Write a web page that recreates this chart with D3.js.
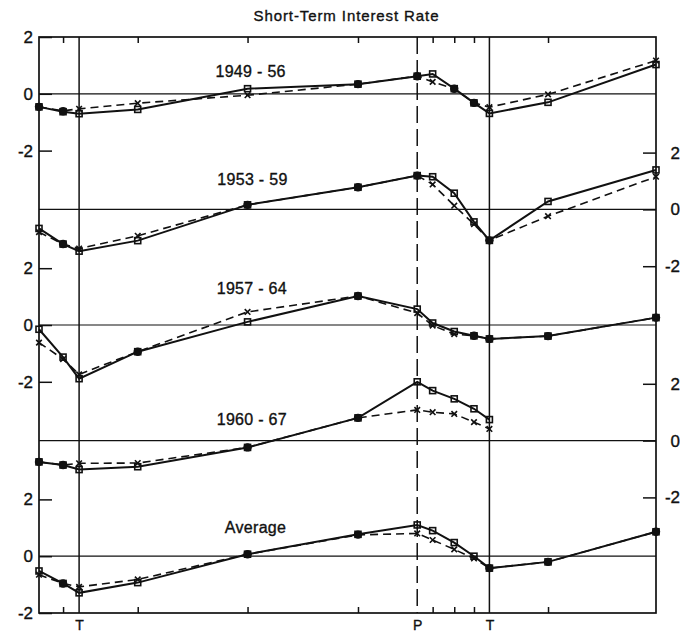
<!DOCTYPE html>
<html><head><meta charset="utf-8">
<script src="https://cdn.jsdelivr.net/npm/d3@7"></script>
<style>
body{margin:0;background:#fff}
svg{display:block}
text{font-family:"Liberation Sans",Arial,Helvetica,sans-serif;fill:#111;stroke:#111;stroke-width:0.35px}
</style>
</head><body><svg id="c" width="680" height="637"></svg>
<script>
// ---------------- data ----------------
const chartTitle = "Short-Term Interest Rate";
// reference-cycle stage positions (relative time scale, initial point = 0, final = 100)
const stagePos = [0, 3.9, 6.5, 16.0, 33.8, 51.7, 61.3, 63.8, 67.3, 70.5, 73.0, 82.5, 100];
const turnIndex = [2, 6, 10];
const turnLabels = ["T", "P", "T"];
const minorTickIndex = [1, 3, 4, 5, 7, 8, 9, 11];
const panelLabels = ["1949 - 56", "1953 - 59", "1957 - 64", "1960 - 67", "Average"];
const yTickValues = [2, 0, -2];

const solid4956  = [-0.46, -0.63, -0.70, -0.55, 0.18, 0.34, 0.62, 0.70, 0.18, -0.32, -0.69, -0.30, 1.03];
const dashed4956 = [-0.46, -0.60, -0.53, -0.33, -0.05, 0.34, 0.62, 0.42, 0.18, -0.32, -0.47, -0.02, 1.17];

const solid5359  = [-0.67, -1.22, -1.47, -1.10, 0.16, 0.78, 1.19, 1.15, 0.57, -0.44, -1.09, 0.28, 1.39];
const dashed5359 = [-0.80, -1.22, -1.38, -0.93, 0.16, 0.78, 1.19, 0.88, 0.13, -0.52, -1.09, -0.24, 1.15];

const solid5764  = [-0.15, -1.13, -1.89, -0.94, 0.11, 1.02, 0.56, 0.07, -0.23, -0.38, -0.49, -0.39, 0.26];
const dashed5764 = [-0.62, -1.20, -1.74, -0.94, 0.46, 1.02, 0.42, -0.02, -0.32, -0.38, -0.49, -0.39, 0.26];

const solid6067  = [-0.75, -0.86, -1.02, -0.92, -0.24, 0.80, 2.07, 1.76, 1.47, 1.12, 0.74];
const dashed6067 = [-0.75, -0.86, -0.80, -0.79, -0.24, 0.80, 1.08, 1.00, 0.94, 0.65, 0.41];

const solidAvg   = [-0.52, -0.96, -1.29, -0.93, 0.07, 0.77, 1.10, 0.90, 0.48, 0.00, -0.42, -0.20, 0.86];
const dashedAvg  = [-0.65, -0.96, -1.08, -0.82, 0.07, 0.75, 0.80, 0.57, 0.24, -0.08, -0.42, -0.20, 0.86];

const solidSeries  = [solid4956, solid5359, solid5764, solid6067, solidAvg];
const dashedSeries = [dashed4956, dashed5359, dashed5764, dashed6067, dashedAvg];

// ---------------- layout ----------------
const L = 39, R = 656, T = 37, B = 613;
const panelGap = 4.07;          // vertical offset between panel zero lines (in units)
const labelLift = [0.6, 0.86, 1.1, 0.55, 0.8];
const labelPos = [34.3, 34.6, 34.5, 34.5, 35.1];

const svg = d3.select("#c");
const x = d3.scaleLinear().domain([0, 100]).range([L, R]);
const y = d3.scaleLinear().domain([2, -2 - 4 * panelGap]).range([T, B]);
const py = (k, v) => y(v - k * panelGap);

// title
svg.append("text").attr("x", 346.5).attr("y", 20.5).attr("text-anchor", "middle")
  .style("font-size", "15px").style("letter-spacing", "0.9px").text(chartTitle);

// zero lines
solidSeries.forEach((s, k) => {
  svg.append("line").attr("x1", L).attr("x2", R).attr("y1", py(k, 0)).attr("y2", py(k, 0))
    .attr("stroke", "#111").attr("stroke-width", 1.2);
});

// turning point verticals
turnIndex.forEach((ti, j) => {
  svg.append("line").attr("x1", x(stagePos[ti])).attr("x2", x(stagePos[ti]))
    .attr("y1", T).attr("y2", B).attr("stroke", "#111").attr("stroke-width", 1.5)
    .attr("stroke-dasharray", turnLabels[j] === "P" ? "17,6" : null);
});

// frame
svg.append("rect").attr("x", L).attr("y", T).attr("width", R - L).attr("height", B - T)
  .attr("fill", "none").attr("stroke", "#111").attr("stroke-width", 1.7);

// x axes: minor ticks top & bottom, labels at turning points
const minorVals = minorTickIndex.map(i => stagePos[i]);
svg.append("g").attr("transform", `translate(0,${B})`)
  .call(d3.axisBottom(x).tickValues(minorVals).tickSize(-6).tickFormat(""))
  .call(g => g.select(".domain").remove())
  .call(g => g.selectAll("line").attr("stroke", "#111").attr("stroke-width", 1.5));
svg.append("g").attr("transform", `translate(0,${T})`)
  .call(d3.axisTop(x).tickValues(minorVals).tickSize(-6).tickFormat(""))
  .call(g => g.select(".domain").remove())
  .call(g => g.selectAll("line").attr("stroke", "#111").attr("stroke-width", 1.5));
svg.append("g").attr("transform", `translate(0,${B})`)
  .call(d3.axisBottom(x).tickValues(turnIndex.map(i => stagePos[i])).tickSize(0).tickPadding(7)
    .tickFormat((d, i) => turnLabels[i]))
  .call(g => g.select(".domain").remove())
  .call(g => g.selectAll("text").style("font-size", "14px").attr("fill", "#111").attr("dy", "0.71em"));

// y axes per panel
solidSeries.forEach((s, k) => {
  const ps = d3.scaleLinear().domain([-2, 2]).range([py(k, -2), py(k, 2)]);
  const left = k % 2 === 0;
  const ax = (left ? d3.axisLeft(ps) : d3.axisRight(ps)).tickValues(yTickValues)
    .tickSize(-13).tickPadding(6).tickFormat(d => String(d));
  const g = svg.append("g").attr("transform", `translate(${left ? L : R},0)`).call(ax);
  g.select(".domain").remove();
  g.selectAll("line").attr("stroke", "#111").attr("stroke-width", 1.5);
  g.selectAll("text").style("font-size", "17px").attr("fill", "#111");
  if (!left) g.selectAll("text").attr("text-anchor", "end").attr("x", 24);
});

// series
const sq = 6;
solidSeries.forEach((s, k) => {
  const d = dashedSeries[k];
  const sPts = s.map((v, i) => [x(stagePos[i]), py(k, v)]);
  const dPts = d.map((v, i) => [x(stagePos[i]), py(k, v)]);
  const line = d3.line();
  svg.append("path").attr("d", line(dPts)).attr("fill", "none").attr("stroke", "#111")
    .attr("stroke-width", 1.6).attr("stroke-dasharray", "8,5");
  svg.append("path").attr("d", line(sPts)).attr("fill", "none").attr("stroke", "#111")
    .attr("stroke-width", 2);
  // coincident points
  s.forEach((v, i) => {
    if (Math.abs(v - d[i]) < 0.04) {
      svg.append("circle").attr("cx", sPts[i][0]).attr("cy", (sPts[i][1] + dPts[i][1]) / 2)
        .attr("r", 4.2).attr("fill", "#111");
    }
  });
  svg.append("g").selectAll("rect").data(sPts).join("rect")
    .attr("x", p => p[0] - sq / 2).attr("y", p => p[1] - sq / 2)
    .attr("width", sq).attr("height", sq).attr("fill", "none")
    .attr("stroke", "#111").attr("stroke-width", 1.6);
  svg.append("g").selectAll("path").data(dPts).join("path")
    .attr("d", p => `M${p[0]-2.8},${p[1]-2.8}L${p[0]+2.8},${p[1]+2.8}M${p[0]-2.8},${p[1]+2.8}L${p[0]+2.8},${p[1]-2.8}`)
    .attr("stroke", "#111").attr("stroke-width", 1.6);
  // panel label
  svg.append("text").attr("x", x(labelPos[k])).attr("y", py(k, labelLift[k]))
    .attr("text-anchor", "middle").style("font-size", "16px").style("letter-spacing", "0.3px")
    .text(panelLabels[k]);
});
</script>
</body></html>
